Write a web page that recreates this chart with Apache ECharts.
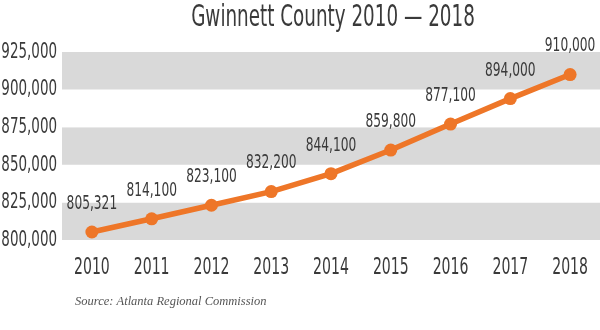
<!DOCTYPE html>
<html>
<head>
<meta charset="utf-8">
<script src="https://cdn.jsdelivr.net/npm/echarts@6/dist/echarts.min.js"></script>
<style>
html,body{margin:0;padding:0;background:#fff;}
#chart{width:600px;height:330px;}
</style>
</head>
<body>
<div id="chart"></div>
<script>
const titleText = 'Gwinnett County 2010 — 2018';
const sourceText = 'Source: Atlanta Regional Commission';
const years = ['2010','2011','2012','2013','2014','2015','2016','2017','2018'];
const population = [805321, 814100, 823100, 832200, 844100, 859800, 877100, 894000, 910000];
const yMin = 800000, yMax = 925000, yStep = 25000;

// Emulate the reference's condensed display face: draw "DejaVu Sans Condensed"
// text horizontally compressed (still real canvas text).
(function () {
  const S = 0.68;
  const proto = CanvasRenderingContext2D.prototype;
  const oFill = proto.fillText, oStroke = proto.strokeText, oMeasure = proto.measureText;
  const narrow = ctx => /Condensed/.test(ctx.font);
  proto.fillText = function (t, x, y) {
    if (!narrow(this)) return oFill.apply(this, arguments);
    this.save(); this.translate(x, y); this.scale(S, 1); oFill.call(this, t, 0, 0); this.restore();
  };
  proto.strokeText = function (t, x, y) {
    if (!narrow(this)) return oStroke.apply(this, arguments);
    this.save(); this.translate(x, y); this.scale(S, 1); oStroke.call(this, t, 0, 0); this.restore();
  };
  proto.measureText = function (t) {
    const m = oMeasure.call(this, t);
    if (!narrow(this)) return m;
    return {
      width: m.width * S,
      actualBoundingBoxLeft: m.actualBoundingBoxLeft * S,
      actualBoundingBoxRight: m.actualBoundingBoxRight * S,
      actualBoundingBoxAscent: m.actualBoundingBoxAscent,
      actualBoundingBoxDescent: m.actualBoundingBoxDescent,
      fontBoundingBoxAscent: m.fontBoundingBoxAscent,
      fontBoundingBoxDescent: m.fontBoundingBoxDescent
    };
  };
})();

const narrowFont = '"DejaVu Sans Condensed"';
const textColor = '#3a3a3a';
const fmt = v => Number(v).toLocaleString('en-US');

const chart = echarts.init(document.getElementById('chart'), null, {renderer: 'canvas'});
chart.setOption({
  animation: false,
  backgroundColor: '#fff',
  title: {
    text: titleText,
    left: 328,
    textAlign: 'center',
    top: 3,
    textStyle: {fontFamily: narrowFont, fontWeight: 'normal', fontSize: 30, color: textColor}
  },
  grid: {left: 62, right: 0, top: 52, bottom: 90, outerBoundsMode: 'none', containLabel: false},
  xAxis: {
    type: 'category',
    data: years,
    boundaryGap: true,
    axisLine: {show: false},
    axisTick: {show: false},
    axisLabel: {fontFamily: narrowFont, fontSize: 23, color: textColor, margin: 20, interval: 0}
  },
  yAxis: {
    type: 'value',
    min: yMin, max: yMax, interval: yStep,
    axisLine: {show: false},
    axisTick: {show: false},
    splitLine: {show: false},
    splitArea: {show: true, areaStyle: {color: ['#d9d9d9', '#ffffff']}},
    axisLabel: {fontFamily: narrowFont, fontSize: 22, color: textColor, margin: 5, formatter: fmt}
  },
  series: [{
    type: 'line',
    data: population,
    symbol: 'circle',
    symbolSize: 13,
    lineStyle: {color: '#ee7628', width: 5.5},
    itemStyle: {color: '#ee7628'},
    label: {
      show: true, position: 'top', distance: 15,
      fontFamily: narrowFont, fontSize: 20, color: textColor,
      formatter: p => fmt(p.value)
    }
  }],
  graphic: [{
    type: 'text',
    left: 75, top: 295,
    style: {text: sourceText, font: 'italic 12.5px "Liberation Serif", serif', fill: '#555'}
  }]
});
</script>
</body>
</html>
